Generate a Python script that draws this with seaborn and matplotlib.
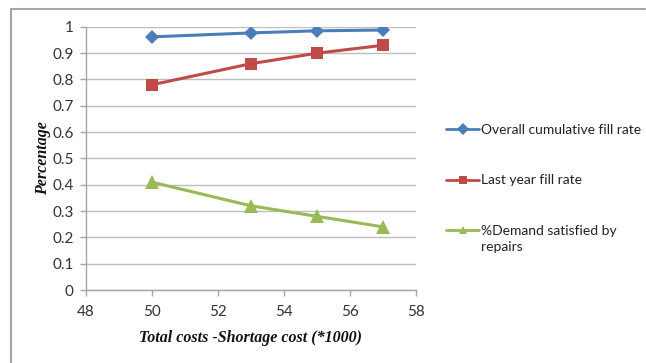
import matplotlib
matplotlib.use("Agg")
import matplotlib.pyplot as plt
import seaborn as sns
import pandas as pd

# Chart data
costs = [50, 53, 55, 57]
overall_fill = [0.962, 0.977, 0.985, 0.988]
last_year_fill = [0.78, 0.86, 0.90, 0.93]
repairs_share = [0.41, 0.32, 0.28, 0.24]
series_names = ["Overall cumulative fill rate", "Last year fill rate",
                "%Demand satisfied by"]
name_continuation = "repairs"
x_ticks = [48, 50, 52, 54, 56, 58]
y_ticks = [0, 0.1, 0.2, 0.3, 0.4, 0.5, 0.6, 0.7, 0.8, 0.9, 1]

sns.set_theme(style="white")
plt.rcParams["font.family"] = ["Lato", "DejaVu Sans"]

fig = plt.figure(figsize=(6.46, 3.63), dpi=100)
fig.patch.set_linewidth(0)
ax = fig.add_axes([0.133, 0.201, 0.511, 0.725])

styles = [("#4A7EBB", "D", 7.5), ("#BE4B48", "s", 9), ("#98B954", "^", 9.5)]
for vals, name, (col, mk, ms) in zip([overall_fill, last_year_fill, repairs_share],
                                     series_names, styles):
    df = pd.DataFrame({"cost": costs, "value": vals})
    sns.lineplot(data=df, x="cost", y="value", ax=ax, color=col, marker=mk,
                 markersize=ms, linewidth=2.2, markeredgewidth=0,
                 label=name, legend=False)

ax.set_xlim(48, 58)
ax.set_ylim(0, 1)
ax.set_xticks(x_ticks)
ax.set_yticks(y_ticks)
ax.set_xticklabels([str(t) for t in x_ticks])
ax.set_yticklabels([f"{t:g}" for t in y_ticks])
ax.yaxis.grid(True, color="#BEBEBE", linewidth=1)
ax.xaxis.grid(False)
for side in ["top", "right"]:
    ax.spines[side].set_visible(False)
for side in ["left", "bottom"]:
    ax.spines[side].set_color("#A6A6A6")
    ax.spines[side].set_linewidth(1)
ax.tick_params(axis="both", which="major", length=4, width=1, color="#A6A6A6",
               labelsize=11, labelcolor="#333333", direction="out",
               bottom=True, left=True)
ax.tick_params(axis="x", pad=7)
ax.tick_params(axis="y", pad=5)

label_font = dict(family="Liberation Serif", weight="bold", style="italic",
                  size=11.5, color="#111111")
ax.set_xlabel("Total costs -Shortage cost (*1000)", labelpad=8, **label_font)
ax.set_ylabel("Percentage", labelpad=1, **label_font)

leg = fig.legend(handles=ax.get_lines(), labels=series_names,
                 loc="upper left", bbox_to_anchor=(0.682, 0.675),
                 frameon=False, fontsize=10, handlelength=2.4,
                 handletextpad=0.1, labelspacing=2.8, borderaxespad=0)
for h in leg.legend_handles:
    h.set_markersize(6)
    h.set_linewidth(2)
for t in leg.get_texts():
    t.set_color("#222222")

# Second line of the last legend entry, aligned with its text
fig.canvas.draw()
last_text = leg.get_texts()[-1]
bb = last_text.get_window_extent().transformed(fig.transFigure.inverted())
fig.text(bb.x0, bb.y0 - 0.01, name_continuation, fontsize=10, color="#222222",
         va="top", ha="left")

# Outer frame lines along the top and left edge
fig.add_artist(plt.Line2D([0.017, 0.999], [0.975, 0.975], color="#A6A6A6",
                          linewidth=1.5, transform=fig.transFigure))
fig.add_artist(plt.Line2D([0.017, 0.017], [0.0, 0.975], color="#A6A6A6",
                          linewidth=1.5, transform=fig.transFigure))

fig.savefig("out.png", dpi=100)
